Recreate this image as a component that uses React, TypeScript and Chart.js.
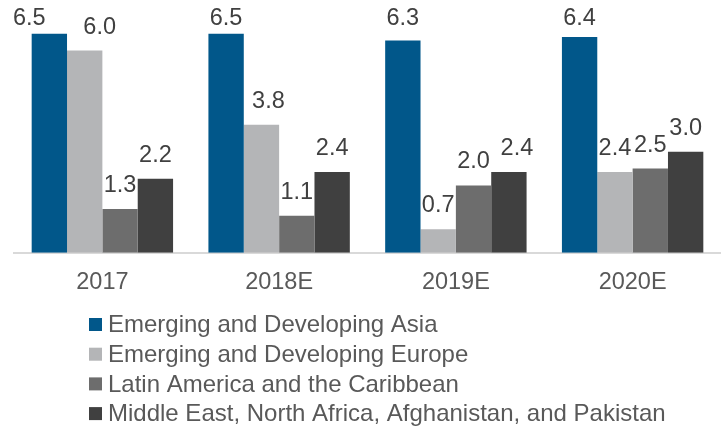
import React, { useEffect, useRef } from "react";
import { Chart, registerables } from "chart.js";

Chart.register(...registerables);

const categories = ["2017", "2018E", "2019E", "2020E"];
const seriesNames = [
  "Emerging and Developing Asia",
  "Emerging and Developing Europe",
  "Latin America and the Caribbean",
  "Middle East, North Africa, Afghanistan, and Pakistan",
];
const asiaValues = [6.5, 6.5, 6.3, 6.4];
const europeValues = [6.0, 3.8, 0.7, 2.4];
const latamValues = [1.3, 1.1, 2.0, 2.5];
const menapValues = [2.2, 2.4, 2.4, 3.0];

const seriesColors = ["#01578A", "#B4B5B7", "#6D6D6D", "#404040"];
// horizontal nudges of value labels (px), as placed in the original
const labelNudgeX = [
  [-20, 0, 0, 0],
  [15, 7, 0, 0],
  [0, 0, 0, 0],
  [0, 0, 8, 0],
];

const FONT = "Arial, 'Liberation Sans', sans-serif";

const valueLabelPlugin = {
  id: "valueLabels",
  afterDatasetsDraw(chart: any) {
    const ctx = chart.ctx;
    ctx.save();
    ctx.font = `23.5px ${FONT}`;
    ctx.fillStyle = "#404040";
    ctx.textAlign = "center";
    ctx.textBaseline = "alphabetic";
    chart.data.datasets.forEach((ds: any, di: number) => {
      const meta = chart.getDatasetMeta(di);
      meta.data.forEach((bar: any, i: number) => {
        const v = ds.data[i];
        const y = Math.max(bar.y - 17, 25);
        ctx.fillText(v.toFixed(1), bar.x + labelNudgeX[di][i], y);
      });
    });
    ctx.restore();
  },
};

const legendPlugin = {
  id: "customLegend",
  afterDraw(chart: any) {
    const ctx = chart.ctx;
    ctx.save();
    ctx.font = `24px ${FONT}`;
    ctx.textBaseline = "middle";
    ctx.textAlign = "left";
    const startY = 324.5;
    const rowH = 29.7;
    chart.data.datasets.forEach((ds: any, i: number) => {
      const cy = startY + i * rowH;
      ctx.fillStyle = ds.backgroundColor;
      ctx.fillRect(89, cy - 6.5, 13, 13);
      ctx.fillStyle = "#595959";
      ctx.fillText(ds.label, 108, cy + 1);
    });
    ctx.restore();
  },
};

export default function App() {
  const ref = useRef<HTMLCanvasElement | null>(null);
  useEffect(() => {
    document.body.style.margin = "0";
    if (!ref.current) return;
    const values = [asiaValues, europeValues, latamValues, menapValues];
    const chart = new Chart(ref.current, {
      type: "bar",
      data: {
        labels: categories,
        datasets: values.map((vals, i) => ({
          label: seriesNames[i],
          data: vals,
          backgroundColor: seriesColors[i],
          borderWidth: 0,
          categoryPercentage: 0.8,
          barPercentage: 1.0,
        })),
      },
      options: {
        responsive: false,
        animation: false,
        layout: { padding: { left: 14, right: 0, top: 0, bottom: 117 } },
        plugins: {
          legend: { display: false },
          tooltip: { enabled: false },
        },
        scales: {
          x: {
            grid: { display: false, drawTicks: false },
            border: { display: true, color: "#D9D9D9", width: 2 },
            ticks: {
              padding: 16,
              color: "#595959",
              font: { size: 23.5, family: FONT },
            },
          },
          y: { display: false, min: 0, max: 7.5 },
        },
      },
      plugins: [valueLabelPlugin, legendPlugin],
    });
    return () => chart.destroy();
  }, []);
  return (
    <div style={{ position: "absolute", left: 0, top: 0, width: 721, height: 430 }}>
      <canvas ref={ref} width={721} height={430} />
    </div>
  );
}
